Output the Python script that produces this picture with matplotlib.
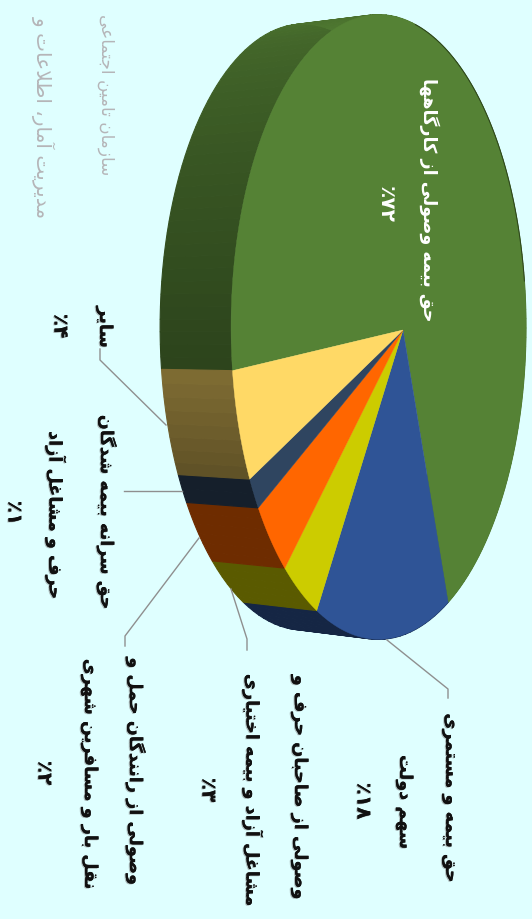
import numpy as np
import matplotlib
matplotlib.use('Agg')
import matplotlib.pyplot as plt
import matplotlib.patheffects as pe

# slice shares as drawn (the printed labels are rounded differently)
slice_shares = [71.5, 14.6, 3.7, 3.7, 1.5, 5.0]
slice_colors = ['#558235', '#2f5496', '#cccc00', '#ff6600', '#2f4560', '#ffd966']
side_start = [0.52, 0.45, 0.44, 0.43, 0.45, 0.37]
side_end = [0.92, 0.45, 0.44, 0.43, 0.45, 0.50]
side_span = [0.38, 1, 1, 1, 1, 1]

label_lines = [
    ['حق بیمه وصولی از کارگاهها', '٪۷۲'],
    ['حق بیمه و مستمری', 'سهم دولت', '٪۱۸'],
    ['وصولی از صاحبان حرف و', 'مشاغل آزاد و بیمه اختیاری', '٪۳'],
    ['وصولی از رانندگان حمل و', 'نقل بار و مسافرین شهری', '٪۲'],
    ['حق سرانه بیمه شدگان', 'حرف و مشاغل آزاد', '٪۱'],
    ['سایر', '٪۴'],
]
org_lines = ['سازمان تامین اجتماعی', 'مدیریت آمار، اطلاعات و']

# where each text line sits (x, y in image pixels)
label_pos = [
    [(429, 200), (385, 204)],
    [(451, 799), (405, 803), (363, 802)],
    [(300, 788), (253, 791), (208, 791)],
    [(136, 772), (90, 775), (44, 774)],
    [(107, 513), (56, 516), (14, 514)],
    [(105, 328), (60, 327)],
]
leaders = [
    [(387, 641), (448, 690), (448, 699)],
    [(231, 590), (247, 640), (247, 651)],
    [(199, 539), (125, 637), (125, 647)],
    [(182, 492), (124, 492)],
    [(166, 426), (100, 361), (100, 350)],
]

FORMS = {
    'ا': (0xFE8D, 2), 'آ': (0xFE81, 2), 'د': (0xFEA9, 2), 'ذ': (0xFEAB, 2),
    'ر': (0xFEAD, 2), 'ز': (0xFEAF, 2), 'و': (0xFEED, 2),
    'ب': (0xFE8F, 4), 'پ': (0xFB56, 4), 'ت': (0xFE95, 4), 'ث': (0xFE99, 4),
    'ج': (0xFE9D, 4), 'ح': (0xFEA1, 4), 'خ': (0xFEA5, 4), 'س': (0xFEB1, 4),
    'ش': (0xFEB5, 4), 'ص': (0xFEB9, 4), 'ض': (0xFEBD, 4), 'ط': (0xFEC1, 4),
    'ظ': (0xFEC5, 4), 'ع': (0xFEC9, 4), 'غ': (0xFECD, 4), 'ف': (0xFED1, 4),
    'ق': (0xFED5, 4), 'ل': (0xFEDD, 4), 'م': (0xFEE1, 4), 'ن': (0xFEE5, 4),
    'ه': (0xFEE9, 4), 'ک': (0xFB8E, 4), 'گ': (0xFB92, 4), 'ی': (0xFBFC, 4),
}


def shape(text):
    # matplotlib has no arabic shaping, so pick the joined glyphs by hand
    if text.startswith('٪'):
        return text
    text = text.replace('لا', '\uFEFB')
    out = []
    for i, ch in enumerate(text):
        if ch == '\uFEFB':
            prev = text[i - 1] if i > 0 else ' '
            joined = prev in FORMS and FORMS[prev][1] == 4
            out.append('\uFEFC' if joined else ch)
            continue
        if ch not in FORMS:
            out.append(ch)
            continue
        base, n = FORMS[ch]
        prev = text[i - 1] if i > 0 else ' '
        nxt = text[i + 1] if i + 1 < len(text) else ' '
        after = prev in FORMS and FORMS[prev][1] == 4
        before = n == 4 and (nxt in FORMS or nxt == '\uFEFB')
        if after and before:
            k = 3
        elif before:
            k = 2
        elif after:
            k = 1
        else:
            k = 0
        out.append(chr(base + k))
    return ''.join(reversed(out))


def front(t):
    # top face: a circle seen in perspective, hub at (403, 331)
    u, v = np.cos(t), np.sin(t)
    w = 0.166 * u + 1
    return 403 + 143.4 * u / w, 328 + 308 * v / w


def back(t):
    x, y = front(t)
    return 0.97 * x - 64, 328 + 0.97 * (y - 328)


fig = plt.figure(figsize=(5.32, 9.2), dpi=100, facecolor='#dfffff')
ax = fig.add_axes([0, 0, 1, 1])
ax.set_xlim(0, 532)
ax.set_ylim(920, 0)
ax.axis('off')

edges = np.radians(173.2) + np.cumsum([0] + slice_shares) / sum(slice_shares) * 2 * np.pi

# side wall, split in small strips for the shading
for i, color in enumerate(slice_colors):
    rgb = np.array(matplotlib.colors.to_rgb(color))
    a, b = edges[i], edges[i + 1]
    steps = max(int((b - a) / 0.035), 2)
    ts = np.linspace(a, b, steps + 1)
    for j in range(steps):
        frac = (j + 0.5) / steps
        shade = np.interp(frac, [0, side_span[i]], [side_start[i], side_end[i]])
        tt = np.linspace(ts[j], ts[j + 1], 4)
        fx, fy = front(tt)
        bx, by = back(tt)
        ax.fill(np.r_[fx, bx[::-1]], np.r_[fy, by[::-1]], color=rgb * shade, lw=0.8)

# top face
for i, color in enumerate(slice_colors):
    ts = np.linspace(edges[i], edges[i + 1], 200)
    x, y = front(ts)
    ax.fill(np.r_[403, x], np.r_[331, y], color=color, lw=0.3)

# thin dark rim on the upper right of the top face
rim_x, rim_y = front(np.linspace(np.radians(275), np.radians(350), 80))
ax.plot(rim_x, rim_y, color='#1c2a12', lw=0.7, alpha=0.7)

for pts in leaders:
    xs, ys = zip(*pts)
    ax.plot(xs, ys, color='#8f8f8f', lw=1)

shadow = [pe.withSimplePatchShadow(offset=(-0.8, -0.6), shadow_rgbFace='#777777', alpha=0.5), pe.Normal()]
for i, lines in enumerate(label_lines):
    for line, (x, y) in zip(lines, label_pos[i]):
        ax.text(x, y, shape(line), rotation=-90, ha='center', va='center',
                fontsize=14.5 if line.startswith('٪') else 12.7,
                fontweight='bold', family='DejaVu Sans',
                color='white' if i == 0 else '#111111',
                path_effects=None if i == 0 else shadow)

ax.text(106, 95, shape(org_lines[0]), rotation=-90, ha='center', va='center',
        fontsize=12.2, color='#b5b5b8', family='DejaVu Sans')
ax.text(44, 117, shape(org_lines[1]), rotation=-90, ha='center', va='center',
        fontsize=14.5, color='#b5b5b8', family='DejaVu Sans')

fig.savefig('out.png', dpi=100, facecolor=fig.get_facecolor())
